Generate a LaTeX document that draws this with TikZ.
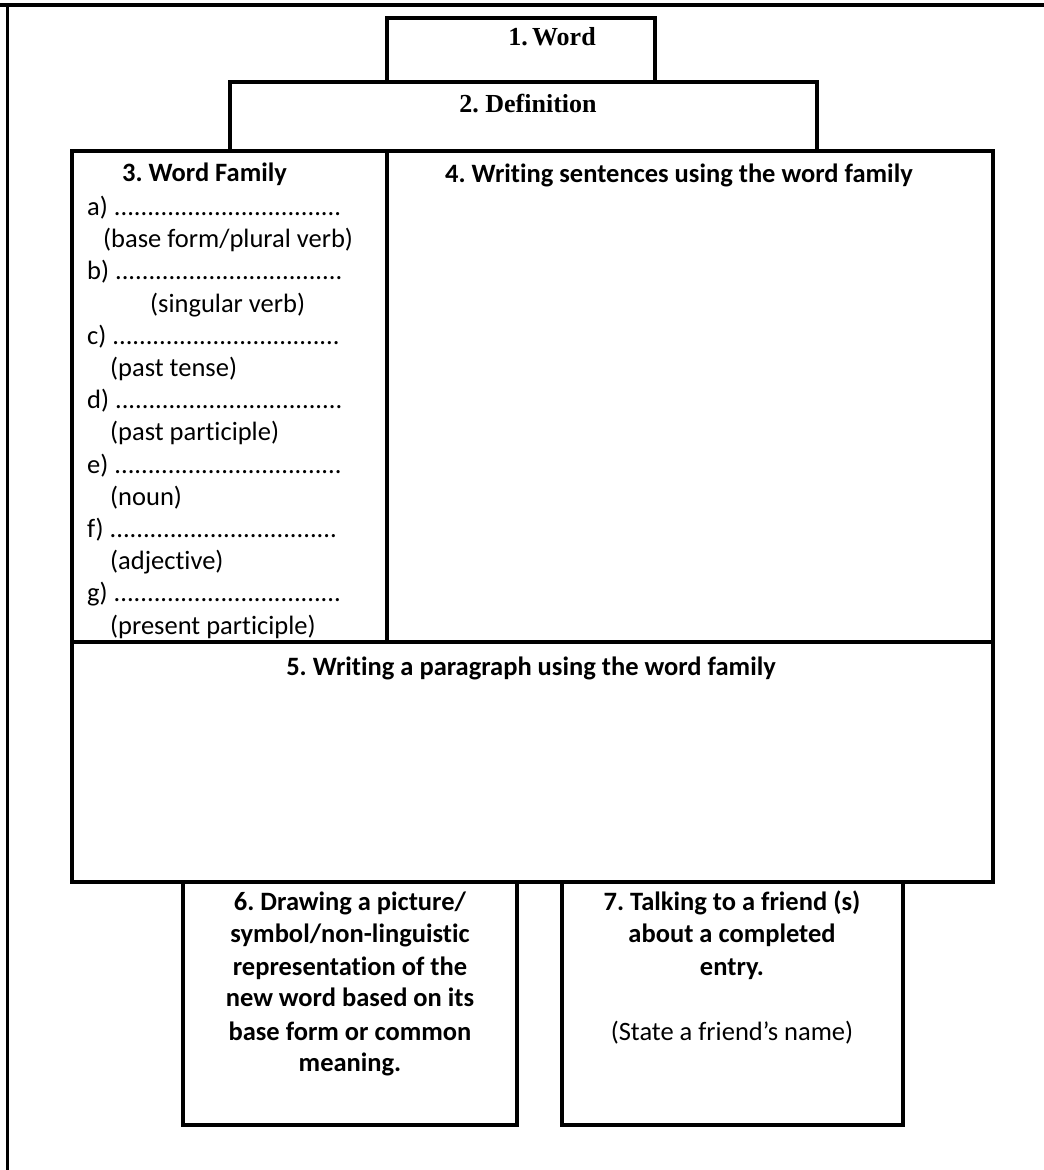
\documentclass[tikz,border=0pt]{standalone}
\usepackage{fontspec}
\setmainfont{Carlito}[Ligatures=CommonOff]
\newfontfamily\tnr{Liberation Serif}
\newcommand\mydots{..................................}
\frenchspacing
\begin{document}
\begin{tikzpicture}[x=1pt,y=-1pt,
  box/.style={draw=black, line width=3.5pt},
  head/.style={inner sep=0pt, anchor=base, font=\fontsize{26.5}{32}\selectfont\bfseries},
  plain/.style={inner sep=0pt, anchor=base, font=\fontsize{26.5}{32}\selectfont},
  item/.style={inner sep=0pt, anchor=base west, font=\fontsize{26.5}{32}\selectfont},
  serifhead/.style={inner sep=0pt, anchor=base, font=\fontsize{26}{30}\selectfont\tnr\bfseries}]
\useasboundingbox (0,0) rectangle (1044,1170);
% outer frame (top and left only)
\draw[line width=4pt] (0,4.5) -- (1044,4.5);
\draw[line width=3pt] (7.5,4.5) -- (7.5,1170);
% boxes
\draw[box] (387,18) rectangle (655,82);
\draw[box] (230,82) rectangle (817,151);
\draw[box] (72,151) rectangle (387,642);
\draw[box] (387,151) rectangle (993,642);
\draw[box] (72,642) rectangle (993,882);
\draw[box] (183,882) rectangle (517,1125);
\draw[box] (562,882) rectangle (903,1125);
% headings
\node[serifhead] (t1) at (552,45) {1.\,Word};
\node[serifhead] (t2) at (528,112) {2. Definition};
\node[head, anchor=base west] (t3) at (122,181) {3. Word Family};
\node[head] (t4) at (679,182) {4. Writing sentences using the word family};
\node[head] (t5) at (531,675) {5. Writing a paragraph using the word family};
% word family list
\node[item] (ia) at (87,215) {a) \mydots};
\node[item] (ia2) at (103,247) {(base form/plural verb)};
\node[item] (ib) at (87,279) {b) \mydots};
\node[item] (ib2) at (150,312) {(singular verb)};
\node[item] (ic) at (87,344) {c) \mydots};
\node[item] (ic2) at (110,376) {(past tense)};
\node[item] (id) at (87,408) {d) \mydots};
\node[item] (id2) at (110,440) {(past participle)};
\node[item] (ie) at (87,473) {e) \mydots};
\node[item] (ie2) at (110,505) {(noun)};
\node[item] (if) at (87,537) {f) \mydots};
\node[item] (if2) at (110,569) {(adjective)};
\node[item] (ig) at (87,601) {g) \mydots};
\node[item] (ig2) at (110,634) {(present participle)};
% box 6
\node[head] (s1) at (350,910) {6. Drawing a picture/};
\node[head] (s2) at (350,942) {symbol/non-linguistic};
\node[head] (s3) at (350,975) {representation of the};
\node[head] (s4) at (350,1006) {new word based on its};
\node[head] (s5) at (350,1040) {base form or common};
\node[head] (s6) at (350,1071) {meaning.};
% box 7
\node[head] (u1) at (732,910) {7. Talking to a friend (s)};
\node[head] (u2) at (732,942) {about a completed};
\node[head] (u3) at (732,975) {entry.};
\node[plain] (u4) at (732,1040) {(State a friend’s name)};
\end{tikzpicture}
\end{document}
